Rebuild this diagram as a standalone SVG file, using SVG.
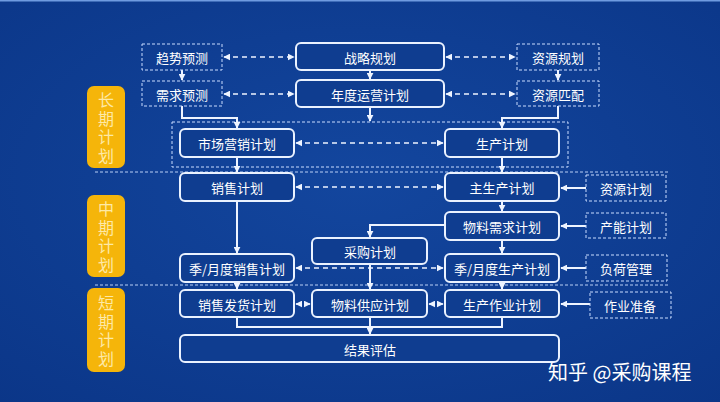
<svg xmlns="http://www.w3.org/2000/svg" width="720" height="402" viewBox="0 0 720 402">
<defs>
<radialGradient id="bg" cx="50%" cy="45%" r="75%">
<stop offset="0" stop-color="#13469e"/>
<stop offset="1" stop-color="#0b3688"/>
</radialGradient>
<marker id="ae" viewBox="0 0 10 10" refX="9" refY="5" markerWidth="7" markerHeight="7" markerUnits="userSpaceOnUse" orient="auto">
<path d="M0,0 L10,5 L0,10 z" fill="#eef4ff"/>
</marker>
<marker id="as" viewBox="0 0 10 10" refX="1" refY="5" markerWidth="7" markerHeight="7" markerUnits="userSpaceOnUse" orient="auto">
<path d="M10,0 L0,5 L10,10 z" fill="#eef4ff"/>
</marker>
</defs>
<style>
.n{fill:#0f3d90;stroke:#eaf2ff;stroke-width:2}
.d{fill:none;stroke:#c9dcff;stroke-width:1;stroke-dasharray:3 2}
.t{font-family:"Noto Sans CJK SC","Noto Sans",sans-serif;font-size:13px;fill:#ffffff;text-anchor:middle;dominant-baseline:central}
.y{fill:#f5b50a}
.yt{font-family:"Noto Sans CJK SC","Noto Sans",sans-serif;font-size:16px;fill:#fde9a6;text-anchor:middle;writing-mode:vertical-rl;letter-spacing:2.5px}
.c{fill:none;stroke:#eef4ff;stroke-width:2}
.cd{fill:none;stroke:#eef4ff;stroke-width:1.6;stroke-dasharray:5 4}
.sep{stroke:#b9cff5;stroke-width:1;stroke-dasharray:3 2}
</style>
<rect x="0" y="0" width="720" height="402" fill="url(#bg)"/>
<rect x="0" y="0" width="720" height="1.5" fill="#6f9be0"/>

<g id="separators">
<line class="sep" x1="95" y1="172" x2="670" y2="172"/>
<line class="sep" x1="95" y1="285" x2="670" y2="285"/>
<rect class="d" x="172" y="122" width="396" height="45"/>
</g>

<g id="tag-long"><rect class="y" x="87" y="86" width="38" height="82" rx="7"/>
<text class="yt" x="106" y="129">长期计划</text></g>
<g id="tag-mid"><rect class="y" x="87" y="195" width="38" height="82" rx="7"/>
<text class="yt" x="106" y="238">中期计划</text></g>
<g id="tag-short"><rect class="y" x="87" y="288" width="38" height="84" rx="7"/>
<text class="yt" x="106" y="332">短期计划</text></g>

<g id="connectors">
<line class="cd" x1="224" y1="57" x2="294" y2="57" marker-start="url(#as)" marker-end="url(#ae)"/>
<line class="cd" x1="446" y1="57" x2="515" y2="57" marker-start="url(#as)" marker-end="url(#ae)"/>
<line class="cd" x1="224" y1="94" x2="294" y2="94" marker-start="url(#as)" marker-end="url(#ae)"/>
<line class="cd" x1="446" y1="94" x2="515" y2="94" marker-start="url(#as)" marker-end="url(#ae)"/>
<line class="c" x1="182" y1="70" x2="182" y2="80" marker-end="url(#ae)"/>
<line class="c" x1="370" y1="71" x2="370" y2="79" marker-end="url(#ae)"/>
<line class="c" x1="558" y1="70" x2="558" y2="80" marker-end="url(#ae)"/>
<polyline class="c" points="182,106 182,118 237,118 237,128" marker-end="url(#ae)"/>
<line class="c" x1="370" y1="108" x2="370" y2="121" marker-end="url(#ae)"/>
<polyline class="c" points="558,106 558,118 502,118 502,128" marker-end="url(#ae)"/>
<line class="cd" x1="296" y1="143" x2="443" y2="143" marker-start="url(#as)" marker-end="url(#ae)"/>
<line class="c" x1="237" y1="158" x2="237" y2="172" marker-end="url(#ae)"/>
<line class="c" x1="502" y1="158" x2="502" y2="172" marker-end="url(#ae)"/>
<line class="cd" x1="296" y1="187" x2="443" y2="187" marker-start="url(#as)" marker-end="url(#ae)"/>
<line class="c" x1="586" y1="188" x2="561" y2="188" marker-end="url(#ae)"/>
<line class="c" x1="502" y1="202" x2="502" y2="211" marker-end="url(#ae)"/>
<line class="c" x1="586" y1="226" x2="561" y2="226" marker-end="url(#ae)"/>
<polyline class="c" points="445,225 370,225 370,237" marker-end="url(#ae)"/>
<line class="c" x1="502" y1="241" x2="502" y2="253" marker-end="url(#ae)"/>
<line class="c" x1="586" y1="268" x2="561" y2="268" marker-end="url(#ae)"/>
<line class="c" x1="237" y1="202" x2="237" y2="253" marker-end="url(#ae)"/>
<line class="cd" x1="296" y1="268" x2="443" y2="268" marker-start="url(#as)" marker-end="url(#ae)"/>
<line class="c" x1="370" y1="265" x2="370" y2="289" marker-end="url(#ae)"/>
<line class="c" x1="237" y1="283" x2="237" y2="289" marker-end="url(#ae)"/>
<line class="c" x1="502" y1="283" x2="502" y2="289" marker-end="url(#ae)"/>
<line class="cd" x1="296" y1="304" x2="310" y2="304" stroke-dasharray="3 3" marker-start="url(#as)" marker-end="url(#ae)"/>
<line class="cd" x1="429" y1="304" x2="443" y2="304" stroke-dasharray="3 3" marker-start="url(#as)" marker-end="url(#ae)"/>
<line class="c" x1="590" y1="304" x2="561" y2="304" marker-end="url(#ae)"/>
<polyline class="c" points="237,318 237,327 502,327 502,318"/>
<line class="c" x1="370" y1="318" x2="370" y2="334" marker-end="url(#ae)"/>
</g>

<g id="n-qushi"><rect class="d" x="142" y="44" width="80" height="26"/><text class="t" x="182" y="57">趋势预测</text></g>
<g id="n-xuqiu"><rect class="d" x="142" y="81" width="80" height="25"/><text class="t" x="182" y="94">需求预测</text></g>
<g id="n-zhanlue"><rect class="n" x="296" y="43" width="148" height="27" rx="5"/><text class="t" x="370" y="57">战略规划</text></g>
<g id="n-niandu"><rect class="n" x="296" y="80" width="148" height="27" rx="5"/><text class="t" x="370" y="94">年度运营计划</text></g>
<g id="n-ziyuanguihua"><rect class="d" x="517" y="44" width="82" height="26"/><text class="t" x="558" y="57">资源规划</text></g>
<g id="n-ziyuanpipei"><rect class="d" x="517" y="81" width="82" height="25"/><text class="t" x="558" y="94">资源匹配</text></g>
<g id="n-shichang"><rect class="n" x="180" y="129" width="114" height="28" rx="5"/><text class="t" x="237" y="143">市场营销计划</text></g>
<g id="n-shengchan"><rect class="n" x="445" y="129" width="114" height="28" rx="5"/><text class="t" x="502" y="143">生产计划</text></g>
<g id="n-xiaoshou"><rect class="n" x="180" y="173" width="114" height="28" rx="5"/><text class="t" x="237" y="187">销售计划</text></g>
<g id="n-zhushengchan"><rect class="n" x="445" y="173" width="114" height="28" rx="5"/><text class="t" x="502" y="187">主生产计划</text></g>
<g id="n-ziyuanjihua"><rect class="d" x="586" y="175" width="80" height="26"/><text class="t" x="626" y="188">资源计划</text></g>
<g id="n-wuliaoxuqiu"><rect class="n" x="445" y="212" width="114" height="28" rx="5"/><text class="t" x="502" y="226">物料需求计划</text></g>
<g id="n-channeng"><rect class="d" x="586" y="213" width="80" height="25"/><text class="t" x="626" y="226">产能计划</text></g>
<g id="n-caigou"><rect class="n" x="312" y="238" width="115" height="26" rx="5"/><text class="t" x="370" y="251">采购计划</text></g>
<g id="n-jixiaoshou"><rect class="n" x="180" y="254" width="114" height="28" rx="5"/><text class="t" x="237" y="268">季/月度销售计划</text></g>
<g id="n-jishengchan"><rect class="n" x="445" y="254" width="114" height="28" rx="5"/><text class="t" x="502" y="268">季/月度生产计划</text></g>
<g id="n-fuhe"><rect class="d" x="586" y="255" width="81" height="26"/><text class="t" x="626" y="268">负荷管理</text></g>
<g id="n-fahuo"><rect class="n" x="180" y="290" width="114" height="27" rx="5"/><text class="t" x="237" y="304">销售发货计划</text></g>
<g id="n-gongying"><rect class="n" x="312" y="290" width="115" height="27" rx="5"/><text class="t" x="370" y="304">物料供应计划</text></g>
<g id="n-zuoye"><rect class="n" x="445" y="290" width="114" height="27" rx="5"/><text class="t" x="502" y="304">生产作业计划</text></g>
<g id="n-zhunbei"><rect class="d" x="590" y="292" width="81" height="26"/><text class="t" x="630" y="305">作业准备</text></g>
<g id="n-pinggu"><rect class="n" x="180" y="335" width="379" height="27" rx="5"/><text class="t" x="370" y="349">结果评估</text></g>

<text x="548" y="380" font-family="Noto Sans CJK SC, sans-serif" font-size="20" fill="#ffffff">知乎 @采购课程</text>
</svg>
